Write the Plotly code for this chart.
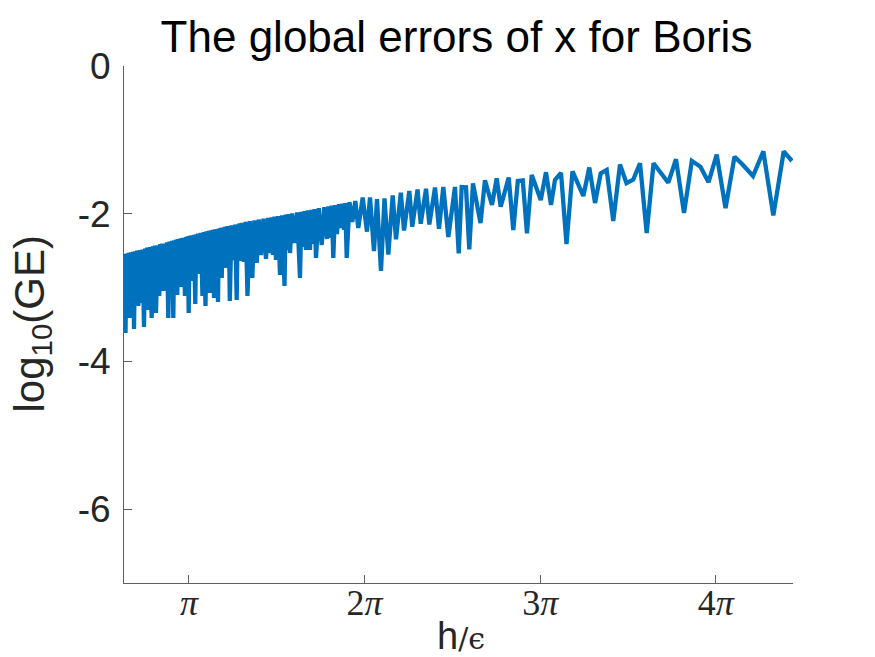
import plotly.graph_objects as go

# h/eps values (dense left part, then sparse right part)
h_over_eps = [
    1.979, 2.006, 2.025, 2.046, 2.066, 2.086, 2.104, 2.122, 2.140, 2.158,
    2.177, 2.197, 2.215, 2.235, 2.260, 2.283, 2.310, 2.337, 2.356, 2.376,
    2.394, 2.414, 2.444, 2.474, 2.494, 2.514, 2.532, 2.551, 2.582, 2.610,
    2.628, 2.646, 2.664, 2.682, 2.703, 2.727, 2.748, 2.771, 2.793, 2.816,
    2.838, 2.861, 2.879, 2.897, 2.914, 2.932, 2.952, 2.972, 2.991, 3.011,
    3.040, 3.070, 3.088, 3.103, 3.118, 3.136, 3.154, 3.172, 3.190, 3.208,
    3.231, 3.254, 3.270, 3.288, 3.304, 3.321, 3.353, 3.383, 3.410, 3.437,
    3.456, 3.477, 3.498, 3.517, 3.535, 3.553, 3.571, 3.589, 3.607, 3.625,
    3.643, 3.660, 3.678, 3.694, 3.711, 3.727, 3.746, 3.765, 3.784, 3.804,
    3.821, 3.838, 3.854, 3.872, 3.902, 3.934, 3.965, 3.995, 4.013, 4.031,
    4.049, 4.067, 4.095, 4.126, 4.156, 4.188,
    4.231, 4.274, 4.313, 4.353, 4.390, 4.430, 4.474, 4.519, 4.555, 4.591,
    4.618, 4.644, 4.671, 4.698, 4.734, 4.770, 4.809, 4.850, 4.873, 4.895,
    4.922, 4.949, 4.988, 5.025, 5.077, 5.127, 5.154, 5.181, 5.208, 5.235,
    5.271, 5.306, 5.333, 5.360, 5.387, 5.414, 5.464, 5.516, 5.562, 5.610,
    5.637, 5.664, 5.695, 5.723, 5.757, 5.789, 5.825, 5.861, 5.888, 5.915,
    5.938, 5.963, 6.013, 6.063, 6.117, 6.170,
    6.249, 6.326, 6.380, 6.451, 6.505, 6.576, 6.639, 6.707, 6.786, 6.845,
    6.931, 6.988, 7.083, 7.136, 7.230, 7.287, 7.382, 7.441, 7.543, 7.614,
    7.691, 7.781, 7.900, 7.967, 8.020, 8.097, 8.156, 8.222, 8.357, 8.437,
    8.562, 8.646, 8.718, 8.861, 8.943, 9.024, 9.113, 9.188, 9.273, 9.435,
    9.528, 9.618, 9.689, 9.797, 9.895, 10.002, 10.196, 10.303, 10.405, 10.507,
    10.614, 10.732, 10.852, 10.969, 11.090, 11.210, 11.330, 11.452, 11.716, 11.854,
    11.997, 12.137, 12.291, 12.436, 12.582, 12.740, 12.901, 13.040, 13.232, 13.416,
    13.595, 13.781, 13.929,
]

log10_ge = [
    -2.545, -3.615, -2.540, -3.209, -2.530, -3.412, -2.522, -3.209, -2.516, -3.561,
    -2.507, -3.209, -2.499, -3.249, -2.491, -3.209, -2.484, -3.534, -2.470, -3.209,
    -2.459, -3.304, -2.451, -3.412, -2.442, -3.182, -2.430, -3.344, -2.429, -3.114,
    -2.411, -3.046, -2.405, -3.046, -2.403, -3.033, -2.386, -3.412, -2.376, -3.060,
    -2.367, -3.412, -2.358, -3.046, -2.348, -3.100, -2.342, -2.992, -2.334, -2.992,
    -2.325, -3.114, -2.315, -2.979, -2.307, -3.344, -2.300, -2.911, -2.291, -2.911,
    -2.284, -3.222, -2.277, -2.816, -2.268, -2.816, -2.258, -3.114, -2.247, -3.249,
    -2.239, -2.870, -2.231, -3.073, -2.224, -2.857, -2.218, -3.141, -2.211, -2.830,
    -2.206, -3.195, -2.200, -2.789, -2.192, -2.870, -2.188, -2.735, -2.178, -2.735,
    -2.172, -2.735, -2.166, -3.182, -2.157, -2.627, -2.146, -3.168, -2.143, -2.640,
    -2.131, -2.640, -2.122, -2.654, -2.111, -3.114,
    -2.100, -2.870, -2.089, -2.667, -2.078, -2.559, -2.067, -2.613, -2.057, -2.532,
    -2.048, -2.559, -2.040, -2.627, -2.032, -2.830, -2.021, -2.979, -2.012, -2.491,
    -2.006, -2.532, -1.997, -2.396, -1.983, -2.870, -1.973, -2.451, -1.964, -2.491,
    -1.955, -2.491, -1.946, -2.410, -1.937, -2.599, -1.925, -2.423, -1.910, -2.342,
    -1.900, -2.329, -1.891, -2.599, -1.882, -2.275, -1.871, -2.193, -1.862, -2.220,
    -1.855, -2.599, -1.843, -2.112, -1.828, -2.193,
    -1.780, -2.243, -1.780, -2.505, -1.801, -2.775, -1.791, -2.552, -1.753, -2.346,
    -1.715, -2.227, -1.692, -2.176, -1.672, -2.136, -1.663, -2.146, -1.645, -2.204,
    -1.638, -2.315, -1.638, -2.536, -1.638, -1.642, -2.482, -1.588, -2.126, -1.548,
    -1.882, -1.520, -1.905, -1.510, -2.220, -1.557, -1.548, -2.265, -1.476, -1.814,
    -1.438, -1.882, -1.543, -1.449, -2.410, -1.428, -1.760, -1.374, -1.855, -1.455,
    -1.408, -2.099, -1.334, -1.587, -1.537, -1.317, -2.261, -1.317, -1.580, -1.263,
    -1.990, -1.284, -1.363, -1.573, -1.201, -1.923, -1.228, -1.330, -1.490, -1.156,
    -2.024, -1.156, -1.286,
]

PI = 3.141592653589793
x_tick_vals = [PI, 2 * PI, 3 * PI, 4 * PI]
x_tick_text = ["<i>π</i>", "2<i>π</i>", "3<i>π</i>", "4<i>π</i>"]
y_tick_vals = [0, -2, -4, -6]
y_tick_text = ["0", "-2", "-4", "-6"]

fig = go.Figure()
fig.add_trace(go.Scatter(
    x=h_over_eps, y=log10_ge, mode="lines",
    line=dict(color="#0072BD", width=4.3, simplify=False),
    hoverinfo="skip", showlegend=False,
))

axis_color = "#5f5f5f"
fig.update_layout(
    width=875, height=657, autosize=False,
    margin=dict(l=124, r=82, t=66, b=74, pad=0),
    paper_bgcolor="white", plot_bgcolor="white",
    title=dict(
        text="The global errors of x for Boris",
        font=dict(family="Liberation Sans, Arial, sans-serif", size=44, color="#000000"),
        x=456.5 / 875, xanchor="center", xref="container",
        y=1 - 37 / 657, yanchor="middle", yref="container",
    ),
    xaxis=dict(
        range=[1.979, 13.947], showgrid=False, zeroline=False,
        showline=True, linecolor=axis_color, linewidth=1, mirror=False,
        ticks="inside", ticklen=8, tickwidth=1, tickcolor=axis_color,
        tickvals=x_tick_vals, ticktext=x_tick_text,
        tickfont=dict(family="Liberation Serif, serif", size=36, color="#262626"),
    ),
    yaxis=dict(
        range=[-7, 0], showgrid=False, zeroline=False,
        showline=True, linecolor=axis_color, linewidth=1, mirror=False,
        ticks="inside", ticklen=8, tickwidth=1, tickcolor=axis_color,
        tickvals=y_tick_vals, ticktext=y_tick_text,
        tickfont=dict(family="Liberation Sans, Arial, sans-serif", size=37, color="#262626"),
        ticklabelstandoff=5,
    ),
    annotations=[
        dict(
            text="log<sub>10</sub>(GE)", textangle=-90,
            xref="paper", yref="paper", x=0, y=0.5,
            xanchor="center", yanchor="middle", xshift=-92, yshift=0,
            showarrow=False,
            font=dict(family="Liberation Sans, Arial, sans-serif", size=42, color="#262626"),
        ),
        dict(
            text='h<span style="font-family:DejaVu Serif;font-size:30px">/ϵ</span>',
            xref="paper", yref="paper", x=0.5, y=0,
            xanchor="center", yanchor="middle", xshift=2, yshift=-53,
            showarrow=False,
            font=dict(family="Liberation Sans, Arial, sans-serif", size=38, color="#262626"),
        ),
    ],
)

try:
    fig.update_xaxes(ticklabelstandoff=-12)
except Exception:
    fig.update_xaxes(ticklabelstandoff=0)

fig.write_html("out.html")
